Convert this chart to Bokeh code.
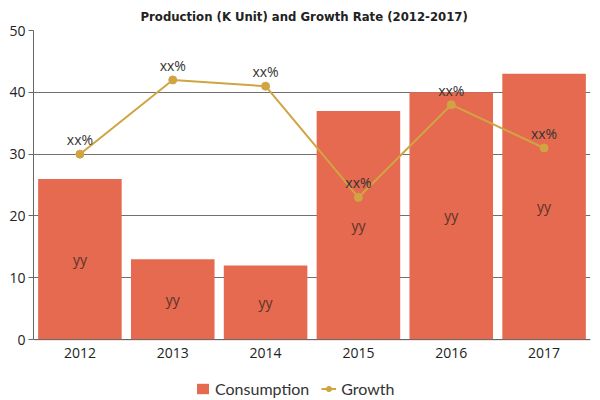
from bokeh.plotting import figure
from bokeh.models import ColumnDataSource, Legend, LegendItem, FixedTicker, Range1d, Span
from bokeh.core.properties import value
from bokeh.embed import file_html
from bokeh.resources import INLINE

years = ["2012", "2013", "2014", "2015", "2016", "2017"]
consumption = [26, 13, 12, 37, 40, 43]
growth = [30, 42, 41, 23, 38, 31]
bar_labels = ["yy"] * 6
growth_labels = ["xx%"] * 6
y_ticks = [0, 10, 20, 30, 40, 50]

BAR = "#E66A50"
LINE = "#D1A443"

src = ColumnDataSource(dict(
    x=years,
    c=consumption,
    cmid=[v / 2 for v in consumption],
    g=growth,
    bl=bar_labels,
    gl=growth_labels,
    zero=[0] * len(years),
))

TOTAL_H = 398
TOP = 29
FRAME_H = TOTAL_H - TOP
PX_PER_UNIT = 310 / 50
y_start = 50 - FRAME_H / PX_PER_UNIT

p = figure(
    x_range=years, y_range=Range1d(y_start, 50),
    width=594, height=TOTAL_H,
    output_backend="svg", toolbar_location=None,
    min_border_left=33, min_border_right=4, min_border_top=TOP, min_border_bottom=0,
    title="Production (K Unit) and Growth Rate (2012-2017)",
)
p.title.align = "left"
p.title.text_font = "DejaVu Sans Condensed"
p.title.text_font_style = "bold"
p.title.text_font_size = "13px"
p.title.text_color = "#222222"
p.title.offset = 107
p.title.standoff = 13

bars = p.vbar(x="x", top="c", width=0.9, source=src, fill_color=BAR, line_color=None)
ln = p.line(x="x", y="g", source=src, line_color=LINE, line_width=2)
pts = p.scatter(x="x", y="g", source=src, size=8, fill_color=LINE, line_color=LINE)

p.text(x="x", y="cmid", text="bl", source=src, text_align="center", text_baseline="middle",
       text_font=value("Open Sans"), text_font_size="14px", text_color="#5a3328")
p.text(x="x", y="g", text="gl", source=src, text_align="center", text_baseline="bottom",
       y_offset=-5, text_font=value("Open Sans"), text_font_size="14px", text_color="#333333")
# category labels under the baseline
p.text(x="x", y="zero", text="x", source=src, text_align="center", text_baseline="middle",
       y_offset=13, text_font=value("Open Sans"), text_font_size="14px", text_color="#222222")

p.add_layout(Span(location=0, dimension="width", line_color="#666666", line_width=1))

p.outline_line_color = None
p.xgrid.grid_line_color = None
p.ygrid.grid_line_color = "#707070"
p.ygrid.grid_line_width = 1
p.ygrid.bounds = (0, 50)
p.yaxis.ticker = FixedTicker(ticks=y_ticks)
p.yaxis.bounds = (0, 50)
p.xaxis.visible = False

ax = p.yaxis[0]
ax.axis_line_color = "#666666"
ax.major_label_text_font = "Open Sans"
ax.major_label_text_font_size = "14px"
ax.major_label_text_color = "#222222"
ax.minor_tick_line_color = None
ax.major_tick_line_color = "#666666"
ax.major_tick_out = 5
ax.major_tick_in = 0
ax.major_label_standoff = 3

legend = Legend(items=[
    LegendItem(label="Consumption", renderers=[bars]),
    LegendItem(label="Growth", renderers=[ln, pts]),
], orientation="horizontal", location=(162, 0))
legend.label_text_font = "Lato"
legend.label_text_font_size = "16px"
legend.label_text_color = "#333333"
legend.border_line_color = None
legend.background_fill_alpha = 0
legend.glyph_width = 15
legend.glyph_height = 13
legend.label_standoff = 5
legend.spacing = 12
legend.padding = 0
legend.margin = 0
p.add_layout(legend, "center")

open("out.html", "w").write(file_html(p, INLINE))
